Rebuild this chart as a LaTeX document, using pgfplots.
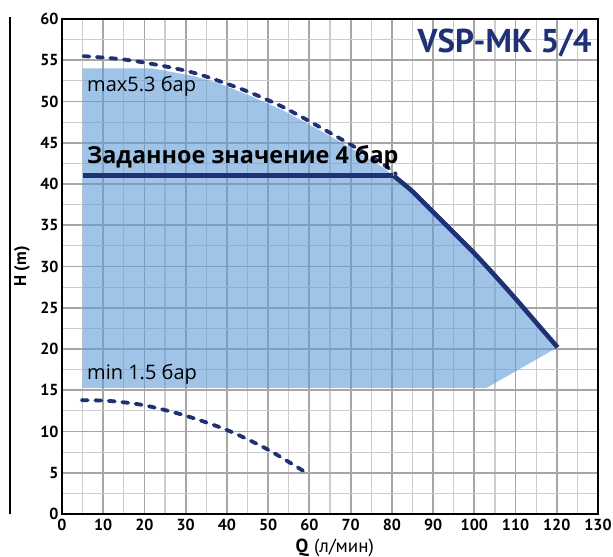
\documentclass[border=0pt]{standalone}
\usepackage{pgfplots}
\pgfplotsset{compat=1.18}
\usepackage{fontspec}
\setmainfont{PT Sans}
\newfontfamily\opensans{Open Sans}
\definecolor{navy}{RGB}{31,48,117}
\definecolor{fillblue}{RGB}{97,157,217}
\begin{document}
\begin{tikzpicture}
\begin{axis}[
  scale only axis, width=536bp, height=495bp,
  xmin=0, xmax=130, ymin=0, ymax=60,
  xtick={0,10,...,130}, ytick={0,5,...,60},
  minor x tick num=1, minor y tick num=1,
  grid=both,
  major grid style={draw=black!35, line width=1.8bp},
  minor grid style={draw=black!20, line width=1.2bp},
  major tick length=0pt, minor tick length=0pt,
  axis line style={line width=2.2bp, black},
  /pgf/number format/assume math mode=true,
  xticklabel={\textbf{\pgfmathprintnumber{\tick}}},
  yticklabel={\textbf{\pgfmathprintnumber{\tick}}},
  tick label style={font=\bfseries\fontsize{16bp}{18bp}\selectfont, text=black},
  x tick label style={yshift=-2bp},
  xlabel={\textbf{Q} (л/мин)},
  ylabel={\textbf{H (m)}},
  xlabel style={font=\fontsize{19bp}{21bp}\selectfont, at={(axis description cs:0.509,-0.0687)}, anchor=center},
  ylabel style={font=\fontsize{17bp}{19bp}\selectfont, at={(axis description cs:-0.0746,0.5)}, anchor=center, rotate=0},
  clip=false,
]
% operating area
\addplot[draw=none, fill=fillblue, fill opacity=0.6] coordinates {
 (5,15.3) (5,54) (22,54) (31.8,53.1) (38,52.2) (45.6,50.7) (53.7,48.9) (61.8,46.7) (69.9,44.4) (77.9,42.0) (80.4,41)
 (85,39.1) (90,36.6) (95,34.1) (100,31.6) (105,28.9) (110,26.1) (115,23.2) (120.2,20.2)
 (103,15.3)} -- cycle;
% max curve
\addplot[navy, line width=3.8bp, line cap=round, dash pattern=on 6bp off 7.5bp, smooth] coordinates {
 (5.2,55.5) (14.9,55.1) (24.6,54.3) (31.8,53.5) (38,52.5) (45.6,51.1) (53.7,49.3) (61.8,47.1) (69.9,44.8) (77.9,42.4) (81,41.2)};
% min curve
\addplot[navy, line width=3.8bp, line cap=round, dash pattern=on 6bp off 7.5bp, smooth] coordinates {
 (4.8,13.8) (11.6,13.7) (19.7,13.2) (29.4,12.0) (39.9,10.2) (49.6,7.9) (58.9,5.1)};
% set point curve
\addplot[navy, line width=4.6bp] coordinates {(5,41) (80.4,41)};
\addplot[navy, line width=4.6bp, smooth] coordinates {
 (80.4,41) (85,39.1) (90,36.6) (95,34.1) (100,31.6) (105,28.9) (110,26.1) (115,23.2) (120.2,20.2)};
\node[anchor=west, inner sep=0pt, font=\opensans\fontsize{20bp}{22bp}\selectfont] at (axis cs:6.06,51.9) {max5.3 бар};
\node[anchor=west, inner sep=0pt, font=\opensans\bfseries\fontsize{23.4bp}{26bp}\selectfont] at (axis cs:6.06,43.2) {Заданное значение 4 бар};
\node[anchor=west, inner sep=0pt, font=\opensans\fontsize{20bp}{22bp}\selectfont] at (axis cs:6.06,17.0) {min 1.5 бар};
\node[anchor=east, inner sep=0pt, text=navy, font=\bfseries\fontsize{33bp}{35bp}\selectfont] at (axis cs:128.5,57.1) {VSP-MK 5/4};
\draw[line width=2.5bp] (axis cs:-12.6,0) -- (axis cs:-12.6,60.3);
\end{axis}
\pgfresetboundingbox
\path (current axis.south west) ++(-62bp,-43bp) coordinate (bl);
\path (current axis.north east) ++(15bp,19bp) coordinate (tr);
\path[use as bounding box] (bl) rectangle (tr);
\end{tikzpicture}
\end{document}
